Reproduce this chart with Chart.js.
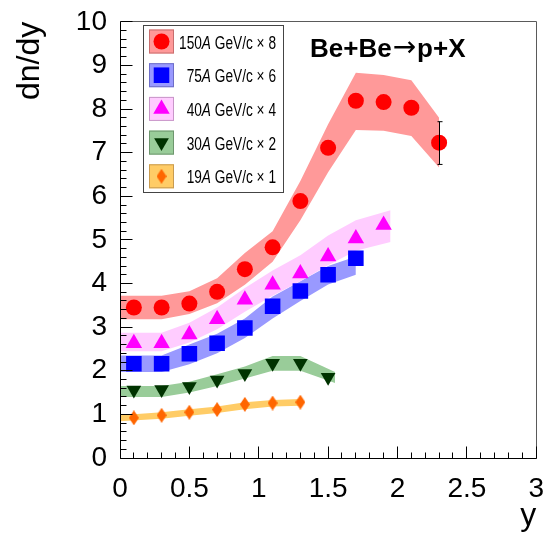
<!DOCTYPE html>
<html>
<head>
<meta charset="utf-8">
<script src="https://cdn.jsdelivr.net/npm/chart.js@4.4.1/dist/chart.umd.min.js"></script>
<style>
  html, body { margin: 0; padding: 0; background: #fff; }
  #dndy { display: block; }
</style>
</head>
<body>
<canvas id="dndy" width="550" height="536"></canvas>
<script>
// rapidity bin centres
const yBins = [0.1, 0.3, 0.5, 0.7, 0.9, 1.1, 1.3, 1.5, 1.7, 1.9, 2.1, 2.3];

// dn/dy points (already multiplied by the legend factor)
const dndy150 = [3.45, 3.45, 3.54, 3.81, 4.33, 4.83, 5.89, 7.11, 8.19, 8.16, 8.03, 7.23];
const dndy75  = [2.16, 2.16, 2.39, 2.63, 2.98, 3.48, 3.83, 4.20, 4.58];
const dndy40  = [2.63, 2.63, 2.83, 3.18, 3.63, 3.97, 4.23, 4.62, 5.03, 5.34];
const dndy30  = [1.56, 1.57, 1.64, 1.79, 1.94, 2.17, 2.17, 1.85];
const dndy19  = [0.92, 0.98, 1.05, 1.11, 1.23, 1.26, 1.28];

// systematic bands: x, upper edge, lower edge
const band150X  = [0, 0.3, 0.5, 0.7, 0.9, 1.1, 1.3, 1.5, 1.7, 1.9, 2.1, 2.3];
const band150Hi = [3.72, 3.72, 3.82, 4.12, 4.70, 5.20, 6.35, 7.65, 8.83, 8.78, 8.66, 7.80];
const band150Lo = [3.18, 3.18, 3.30, 3.55, 3.97, 4.50, 5.45, 6.55, 7.52, 7.50, 7.38, 6.66];

const band75X  = [0, 0.3, 0.5, 0.7, 0.9, 1.1, 1.3, 1.5, 1.7];
const band75Hi = [2.35, 2.35, 2.60, 2.85, 3.20, 3.70, 4.05, 4.40, 4.62];
const band75Lo = [1.97, 1.97, 2.15, 2.40, 2.75, 3.20, 3.60, 3.98, 4.20];

const band40X  = [0, 0.3, 0.5, 0.7, 0.9, 1.1, 1.3, 1.5, 1.7, 1.95];
const band40Hi = [2.87, 2.87, 3.10, 3.45, 3.90, 4.30, 4.65, 5.10, 5.45, 5.68];
const band40Lo = [2.45, 2.45, 2.65, 2.95, 3.35, 3.72, 4.05, 4.42, 4.75, 4.95];

const band30X  = [0, 0.3, 0.5, 0.7, 0.9, 1.1, 1.3, 1.55];
const band30Hi = [1.65, 1.65, 1.75, 1.92, 2.10, 2.34, 2.34, 1.97];
const band30Lo = [1.40, 1.40, 1.50, 1.65, 1.82, 2.00, 2.00, 1.72];

const band19X  = [0, 0.3, 0.5, 0.7, 0.9, 1.1, 1.3];
const band19Hi = [0.98, 1.05, 1.12, 1.18, 1.28, 1.33, 1.35];
const band19Lo = [0.84, 0.90, 0.97, 1.03, 1.12, 1.18, 1.20];

// stat. error on the last 150A point
const errX = 2.3;
const errLo = 6.73;
const errHi = 7.71;

const legendEnergy = ['150', '75', '40', '30', '19'];
const legendFactor = ['8', '6', '4', '2', '1'];

const FONT = "'Liberation Sans', Arial, Helvetica, sans-serif";
Chart.defaults.font.family = FONT;
Chart.defaults.color = '#000';

function thinDiamond(color, w, h) {
    const c = document.createElement('canvas');
    c.width = w;
    c.height = h;
    const g = c.getContext('2d');
    g.fillStyle = color;
    g.beginPath();
    g.moveTo(w / 2, 0);
    g.lineTo(w, h / 2);
    g.lineTo(w / 2, h);
    g.lineTo(0, h / 2);
    g.closePath();
    g.fill();
    return c;
}

const series = [
    { y: dndy150, bx: band150X, hi: band150Hi, lo: band150Lo, color: '#ff0000', band: '#ff9999', edge: '#c86e6e',
      style: 'circle', radius: 8, rotation: 0, bandOrder: 15 },
    { y: dndy75, bx: band75X, hi: band75Hi, lo: band75Lo, color: '#0000ff', band: '#9999ff', edge: '#6e6ec8',
      style: 'rect', radius: 11, rotation: 0, bandOrder: 14 },
    { y: dndy40, bx: band40X, hi: band40Hi, lo: band40Lo, color: '#ff00ff', band: '#ffccff', edge: '#c896c8',
      style: 'triangle', radius: 9.5, rotation: 0, bandOrder: 13 },
    { y: dndy30, bx: band30X, hi: band30Hi, lo: band30Lo, color: '#003300', band: '#99cc99', edge: '#6e966e',
      style: 'triangle', radius: 8.5, rotation: 180, bandOrder: 12 },
    { y: dndy19, bx: band19X, hi: band19Hi, lo: band19Lo, color: '#ff6600', band: '#ffcc66', edge: '#c89b50',
      style: thinDiamond('#ff6600', 10, 15), radius: 7, rotation: 0, bandOrder: 11 },
];

const pts = (xs, ys) => ys.map((v, i) => ({ x: xs[i], y: v }));

const datasets = [];
series.forEach((s, k) => {
    datasets.push({
        data: pts(yBins, s.y),
        showLine: false,
        pointStyle: s.style,
        pointRadius: s.radius,
        pointRotation: s.rotation,
        pointBackgroundColor: s.color,
        pointBorderWidth: 0,
        pointBorderColor: s.color,
        order: k,
    });
});
series.forEach(s => {
    datasets.push({
        data: pts(s.bx, s.hi),
        borderWidth: 0,
        borderColor: 'rgba(0,0,0,0)',
        backgroundColor: s.band,
        pointRadius: 0,
        tension: 0,
        fill: '+1',
        order: s.bandOrder,
    });
    datasets.push({
        data: pts(s.bx, s.lo),
        borderWidth: 0,
        borderColor: 'rgba(0,0,0,0)',
        pointRadius: 0,
        tension: 0,
        fill: false,
        order: s.bandOrder,
    });
});

// frame, inner tick marks and the error bar
const framePlugin = {
    id: 'frame',
    afterDatasetsDraw(chart) {
        const { ctx, chartArea: a, scales: { x, y } } = chart;
        ctx.save();
        ctx.lineWidth = 1;

        // error bar
        const ex = Math.round(x.getPixelForValue(errX)) + 0.5;
        const e1 = y.getPixelForValue(errLo);
        const e2 = y.getPixelForValue(errHi);
        ctx.strokeStyle = '#000';
        ctx.beginPath();
        ctx.moveTo(ex, e1); ctx.lineTo(ex, e2);
        ctx.moveTo(ex - 2, e1); ctx.lineTo(ex + 3, e1);
        ctx.moveTo(ex - 2, e2); ctx.lineTo(ex + 3, e2);
        ctx.stroke();

        // top / right frame
        ctx.strokeStyle = '#5a5a5a';
        ctx.beginPath();
        ctx.moveTo(Math.floor(a.left) + 0.5, Math.floor(a.top) + 0.5);
        ctx.lineTo(Math.floor(a.right) + 0.5, Math.floor(a.top) + 0.5);
        ctx.lineTo(Math.floor(a.right) + 0.5, Math.floor(a.bottom) + 0.5);
        ctx.stroke();

        // axes + ticks
        ctx.strokeStyle = '#000';
        const L = Math.floor(a.left) + 0.5;
        const B = Math.floor(a.bottom) + 0.5;
        ctx.beginPath();
        ctx.moveTo(L, Math.floor(a.top) + 0.5);
        ctx.lineTo(L, B);
        ctx.lineTo(Math.floor(a.right) + 0.5, B);
        for (let i = 0; i <= 30; i++) {
            const px = Math.floor(x.getPixelForValue(i / 10)) + 0.5;
            const len = i % 5 === 0 ? 12 : 6;
            ctx.moveTo(px, B);
            ctx.lineTo(px, B - len);
        }
        for (let i = 0; i <= 50; i++) {
            const py = Math.floor(y.getPixelForValue(i / 5)) + 0.5;
            const len = i % 5 === 0 ? 12 : 6;
            ctx.moveTo(L, py);
            ctx.lineTo(L + len, py);
        }
        ctx.stroke();
        ctx.restore();
    },
    afterDraw(chart) {
        const { ctx } = chart;
        ctx.save();

        // reaction label, arrow drawn a bit wider/thinner like the original
        ctx.fillStyle = '#000';
        ctx.textAlign = 'left';
        ctx.textBaseline = 'alphabetic';
        let tx = 310;
        ctx.font = 'bold 26px ' + FONT;
        ctx.fillText('Be+Be', tx, 57);
        tx += ctx.measureText('Be+Be').width;
        ctx.font = "28px 'DejaVu Sans', sans-serif";
        ctx.fillText('\u2192', tx + 1, 56);
        tx += ctx.measureText('\u2192').width + 2;
        ctx.font = 'bold 26px ' + FONT;
        ctx.fillText('p+X', tx, 57);

        // legend box
        ctx.fillStyle = '#fff';
        ctx.fillRect(143, 25, 141, 168);
        ctx.strokeStyle = '#444';
        ctx.lineWidth = 1;
        ctx.strokeRect(143.5, 25.5, 140, 167);

        series.forEach((s, i) => {
            const cy = 41.5 + i * 33.7;
            ctx.fillStyle = s.band;
            ctx.fillRect(149, cy - 12, 25, 24);
            ctx.strokeStyle = s.edge;
            ctx.strokeRect(149.5, cy - 11.5, 24, 23);

            ctx.fillStyle = s.color;
            Chart.helpers.drawPoint(ctx, {
                pointStyle: s.style, radius: s.radius, rotation: s.rotation, borderWidth: 0,
            }, 161.5, cy);

            const parts = [
                { t: legendEnergy[i], f: '18px ' + FONT },
                { t: 'A', f: 'italic 18px ' + FONT },
                { t: ' GeV/c \u00d7 ' + legendFactor[i], f: '18px ' + FONT },
            ];
            const sx = 0.76;
            let w = 0;
            parts.forEach(p => { ctx.font = p.f; w += ctx.measureText(p.t).width; });
            ctx.save();
            ctx.translate(276 - w * sx, cy + 7);
            ctx.scale(sx, 1);
            ctx.fillStyle = '#000';
            let cx = 0;
            parts.forEach(p => {
                ctx.font = p.f;
                ctx.fillText(p.t, cx, 0);
                cx += ctx.measureText(p.t).width;
            });
            ctx.restore();
        });
        ctx.restore();
    },
};

new Chart(document.getElementById('dndy'), {
    type: 'line',
    data: { datasets },
    options: {
        responsive: false,
        animation: false,
        layout: { padding: { top: 19, right: 11, left: 0, bottom: 0 } },
        plugins: {
            legend: { display: false },
            tooltip: { enabled: false },
        },
        scales: {
            x: {
                type: 'linear',
                min: 0,
                max: 3,
                grid: { display: false },
                border: { display: false },
                ticks: {
                    stepSize: 0.5, padding: 6, color: '#000', font: { size: 28 },
                    callback: v => String(v),
                },
                title: {
                    display: true, text: 'y', align: 'end', color: '#000',
                    font: { size: 32 }, padding: { top: 0, bottom: 1 },
                },
                afterFit: s => { s.height = 78; },
            },
            y: {
                min: 0,
                max: 10,
                grid: { display: false },
                border: { display: false },
                ticks: {
                    stepSize: 1, padding: 5, color: '#000', font: { size: 28 },
                    callback: v => String(v),
                },
                title: {
                    display: true, text: 'dn/dy', align: 'end', color: '#000',
                    font: { size: 32 }, padding: { top: 11, bottom: 0 },
                },
                afterFit: s => { s.width = 120; },
            },
        },
    },
    plugins: [framePlugin],
});
</script>
</body>
</html>
